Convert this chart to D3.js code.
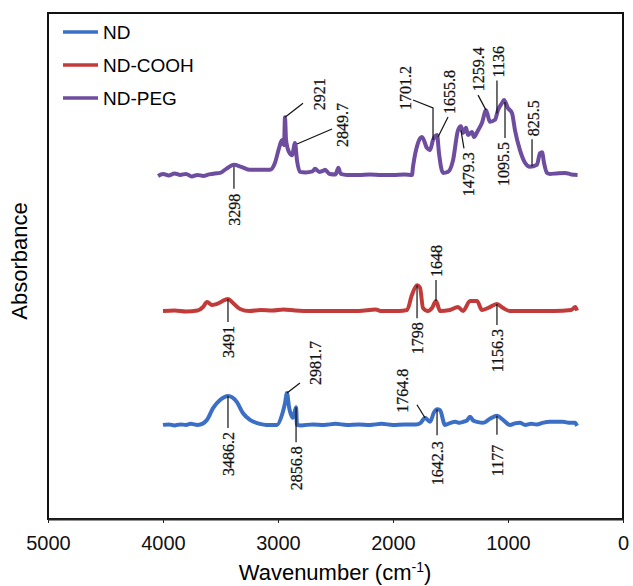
<!DOCTYPE html>
<meta charset="utf-8">
<style>
	body { margin: 0; background: #fff; }
	.axis text { font-family: "Liberation Sans", Arial, sans-serif; font-size: 20px; fill: #111; }
	.axis path, .axis line { stroke: #222; }
	.peak text { font-family: "Liberation Serif", "Times New Roman", serif; font-size: 16px; fill: #111; stroke: #111; stroke-width: 0.25px; }
	.peak path { fill: none; stroke: #111; stroke-width: 1.2px; }
	.spectrum { fill: none; stroke-width: 4px; stroke-linejoin: round; }
</style>
<svg width="633" height="586"></svg>
<script src="https://cdn.jsdelivr.net/npm/d3@7"></script>
<script>
	/**
	 * data  (wavenumber cm-1, absorbance a.u. incl. stacking offset)
	 **/
	var seriesNames = ["ND", "ND-COOH", "ND-PEG"];
	var seriesColors = ["#3b6fc6", "#c23b3b", "#6e4d9f"];
	var xTicks = [5000, 4000, 3000, 2000, 1000, 0];

	var ND = [[4000,18.6],[3950,18.7],[3900,18.5],[3850,18.7],[3800,18.6],[3760,18.8],[3700,18.6],[3650,18.9],
		[3617,19.6],[3565,21.9],[3504,23.5],[3435,24.3],[3357,23.1],[3304,20.9],[3243,19.6],[3157,18.8],[3100,18.6],
		[3009,18.6],[2965,20.6],[2939,22.9],[2922,24.9],[2904,22.1],[2878,20.2],[2870,20.0],[2843,22.1],[2835,18.6],
		[2800,18.5],[2700,18.7],[2600,18.6],[2500,18.8],[2400,18.6],[2300,18.7],[2200,18.6],[2100,18.8],[2000,18.6],
		[1900,18.7],[1800,18.7],[1760,19.0],[1722,20.0],[1678,19.2],[1643,21.1],[1617,21.7],[1591,21.5],[1548,18.6],
		[1500,19.0],[1461,19.2],[1420,19.0],[1391,19.2],[1360,19.4],[1330,20.2],[1300,19.4],[1270,19.2],[1217,19.0],
		[1157,19.8],[1096,20.4],[1043,19.6],[983,18.6],[940,18.9],[896,19.0],[850,18.6],[800,18.8],[750,18.7],
		[700,19.0],[635,19.2],[580,19.2],[522,19.2],[460,19.0],[417,19.0],[400,18.4]];

	var NDCOOH = [[4000,41.1],[3900,41.2],[3800,41.0],[3700,41.2],[3652,41.9],[3617,42.9],[3574,42.3],[3530,42.5],
		[3496,42.9],[3435,43.5],[3391,42.7],[3330,41.5],[3250,41.1],[3150,41.3],[3050,41.2],[2950,41.4],[2850,41.2],
		[2700,41.1],[2500,41.1],[2300,41.1],[2150,41.4],[2100,41.1],[1950,41.1],[1878,41.3],[1835,44.3],[1791,46.2],
		[1765,45.7],[1739,41.7],[1696,41.1],[1661,41.7],[1626,43.1],[1591,41.1],[1504,41.3],[1435,41.9],[1391,41.1],
		[1330,43.1],[1270,43.1],[1226,41.3],[1174,41.7],[1096,42.5],[1043,41.7],[983,41.1],[800,41.1],[600,41.1],
		[450,41.3],[415,41.9],[400,41.2]];

	var NDPEG = [[4043,67.8],[4000,68.2],[3950,67.9],[3900,68.3],[3850,68.0],[3800,68.2],[3750,67.7],[3700,68.0],
		[3650,67.8],[3600,68.1],[3550,68.3],[3504,68.4],[3450,69.2],[3383,70.0],[3320,69.6],[3243,69.0],[3150,69.0],
		[3070,69.0],[3026,70.4],[2991,73.3],[2965,74.9],[2948,73.9],[2939,79.4],[2930,74.9],[2904,72.5],[2878,71.9],
		[2852,74.3],[2835,70.9],[2809,68.6],[2760,68.5],[2700,68.7],[2678,69.2],[2640,68.6],[2600,68.9],[2591,69.0],
		[2550,68.2],[2500,68.1],[2475,69.4],[2455,68.2],[2400,68.0],[2300,68.0],[2200,68.1],[2100,68.0],[2000,68.0],
		[1900,68.1],[1835,68.0],[1826,69.6],[1783,74.3],[1748,75.5],[1704,73.3],[1678,72.9],[1652,74.9],[1617,75.9],
		[1600,72.3],[1565,68.4],[1522,68.6],[1478,70.9],[1435,76.8],[1409,77.6],[1391,76.3],[1365,77.3],[1348,75.9],
		[1313,76.5],[1296,75.5],[1261,76.8],[1226,78.3],[1191,80.8],[1157,78.5],[1113,78.9],[1087,80.8],[1052,82.2],
		[1035,82.8],[1000,81.2],[965,80.2],[939,76.8],[896,72.9],[852,70.4],[809,69.6],[748,70.0],[722,72.3],
		[704,72.5],[687,70.4],[661,68.4],[635,68.2],[580,68.3],[504,68.4],[450,68.1],[395,68.0]];

	// [series index, wavenumber on curve, label]
	var peakLabels = [
		[2,3383,"3298"],[2,2939,"2921"],[2,2852,"2849.7"],[2,1652,"1701.2"],[2,1617,"1655.8"],
		[2,1409,"1479.3"],[2,1191,"1259.4"],[2,1096,"1136"],[2,1026,"1095.5"],[2,791,"825.5"],
		[1,3435,"3491"],[1,1791,"1798"],[1,1626,"1648"],[1,1096,"1156.3"],
		[0,3435,"3486.2"],[0,2922,"2981.7"],[0,2843,"2856.8"],[0,1722,"1764.8"],[0,1617,"1642.3"],[0,1096,"1177"]
	];

	/**
	 * layout
	 **/
	var spectra = [ND, NDCOOH, NDPEG];
	var svg = d3.select("svg");
	var box = {left: 48, right: 623, top: 13, bottom: 519};

	var x = d3.scaleLinear().domain([5000, 0]).range([box.left, box.right]);
	var y = d3.scaleLinear().domain([0, 100]).range([box.bottom, box.top]);

	// leader lines: points relative to the peak tip, then text offset and anchor
	var leaders = [
		{p: [[0,2],[0,24]], t: [0,29,"end"]},
		{p: [[0,0],[18,-14]], t: [34,-7,"start"]},
		{p: [[2,1],[37,-14]], t: [47,4,"start"]},
		{p: [[0,0],[0,-32],[-20,-40]], t: [-28,-30,"start"]},
		{p: [[1,2],[11,-18]], t: [12,-21,"start"]},
		{p: [[0,4],[3,22]], t: [7,26,"end"]},
		{p: [[0,0],[-8,-15]], t: [-8,-19,"start"]},
		{p: [[0,0],[0,-33]], t: [1,-36,"start"]},
		{p: [[0,0],[0,36]], t: [-2,40,"end"]},
		{p: [[0,0],[0,-27]], t: [1,-30,"start"]},
		{p: [[0,0],[0,23]], t: [0,27,"end"]},
		{p: [[0,0],[0,33]], t: [0,37,"end"]},
		{p: [[0,0],[0,-21]], t: [0,-24,"start"]},
		{p: [[0,0],[0,21]], t: [0,25,"end"]},
		{p: [[0,0],[0,32]], t: [0,36,"end"]},
		{p: [[0,0],[13,-10]], t: [28,-8,"start"]},
		{p: [[0,0],[0,35]], t: [0,39,"end"]},
		{p: [[0,0],[-8,-13]], t: [-23,-5,"start"]},
		{p: [[0,0],[0,26]], t: [0,32,"end"]},
		{p: [[0,0],[0,19]], t: [0,29,"end"]}
	];

	function valueAt(data, wn) {
		for (var i = 0; i < data.length - 1; i++) {
			var a = data[i], b = data[i + 1];
			if (wn <= a[0] && wn >= b[0]) {
				return a[1] + (b[1] - a[1]) * (a[0] - wn) / (a[0] - b[0]);
			}
		}
		return data[data.length - 1][1];
	}

	// frame
	svg.append("rect")
		.attr("x", box.left).attr("y", box.top)
		.attr("width", box.right - box.left).attr("height", box.bottom - box.top)
		.attr("fill", "none").attr("stroke", "#111").attr("stroke-width", 2);

	// x axis
	var gx = svg.append("g")
		.attr("class", "axis")
		.attr("transform", "translate(0," + box.bottom + ")")
		.call(d3.axisBottom(x).tickValues(xTicks).tickSize(4).tickSizeOuter(0).tickFormat(d3.format("d")));
	gx.select(".domain").attr("stroke-width", 2);
	gx.selectAll("text").attr("dy", "1.2em");

	svg.append("text")
		.attr("x", 335).attr("y", 580)
		.attr("text-anchor", "middle")
		.style("font-family", "Liberation Sans, Arial, sans-serif")
		.style("font-size", "22px")
		.text("Wavenumber (cm")
		.append("tspan").attr("baseline-shift", "super").style("font-size", "14px").text("-1")
		.select(function() { return this.parentNode; })
		.append("tspan").text(")");

	svg.append("text")
		.attr("transform", "translate(27,261) rotate(-90)")
		.attr("text-anchor", "middle")
		.style("font-family", "Liberation Sans, Arial, sans-serif")
		.style("font-size", "22px")
		.text("Absorbance");

	// spectra
	var line = d3.line()
		.x(function(d) { return x(d[0]); })
		.y(function(d) { return y(d[1]); })
		.curve(d3.curveMonotoneX);

	svg.append("g").selectAll("path")
		.data(spectra)
		.enter().append("path")
		.attr("class", "spectrum")
		.attr("stroke", function(d, i) { return seriesColors[i]; })
		.attr("d", line);

	// peak labels
	var peaks = svg.append("g").attr("class", "peak")
		.selectAll("g")
		.data(peakLabels)
		.enter().append("g")
		.attr("transform", function(d) {
			return "translate(" + x(d[1]) + "," + y(valueAt(spectra[d[0]], d[1])) + ")";
		});
	peaks.append("path")
		.attr("d", function(d, i) { return "M" + leaders[i].p.join("L"); });
	peaks.append("text")
		.attr("transform", function(d, i) {
			return "translate(" + leaders[i].t[0] + "," + leaders[i].t[1] + ") rotate(-90)";
		})
		.attr("dy", "0.35em")
		.attr("text-anchor", function(d, i) { return leaders[i].t[2]; })
		.text(function(d) { return d[2]; });

	// legend
	var legend = svg.append("g").selectAll("g")
		.data(seriesNames)
		.enter().append("g")
		.attr("transform", function(d, i) { return "translate(63," + (32 + i * 33) + ")"; });
	legend.append("line")
		.attr("x1", 0).attr("x2", 35)
		.attr("stroke", function(d, i) { return seriesColors[i]; })
		.attr("stroke-width", 3.5);
	legend.append("text")
		.attr("x", 40).attr("dy", "0.36em")
		.style("font-family", "Liberation Sans, Arial, sans-serif")
		.style("font-size", "19px")
		.text(function(d) { return d; });
</script>
